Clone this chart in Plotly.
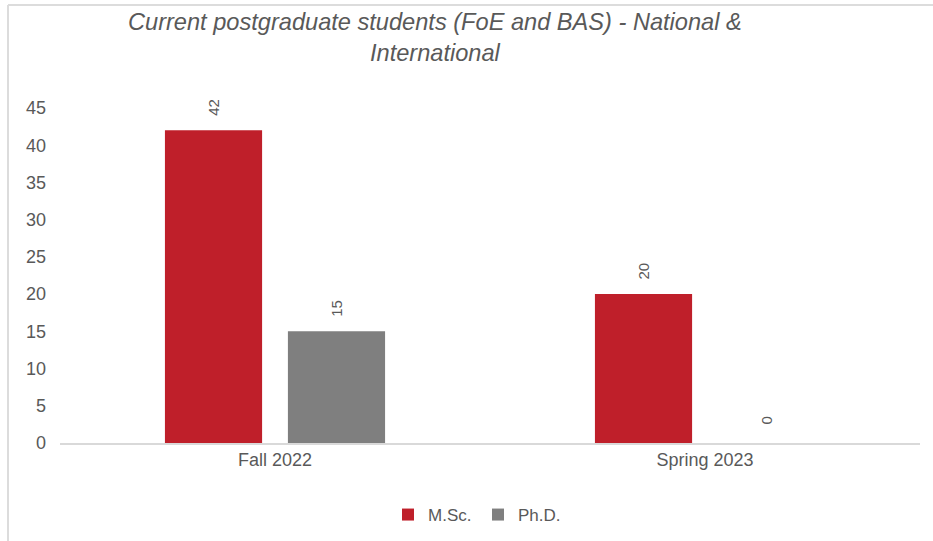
import plotly.graph_objects as go

categories = ["Fall 2022", "Spring 2023"]
msc_values = [42, 20]
phd_values = [15, 0]
series_names = ["M.Sc.", "Ph.D."]
y_ticks = [0, 5, 10, 15, 20, 25, 30, 35, 40, 45]

RED = "#BF1F2A"
GRAY = "#7F7F7F"
TXT = "#595959"
FONT = "Liberation Sans, Arial, sans-serif"

ML, MR, MT, MB = 60, 13, 108, 98
W, H = 933, 541
PW, PH = W - ML - MR, H - MT - MB

fig = go.Figure()
series = [(series_names[0], msc_values, RED), (series_names[1], phd_values, GRAY)]
for name, vals, col in series:
    fig.add_trace(go.Bar(
        x=categories, y=vals, name=name,
        marker=dict(color=col, line=dict(width=0)),
        cliponaxis=False,
    ))

# rotated data labels placed above each bar
cat_w = PW / len(categories)
slot = cat_w * (1 - 0.428) / 2
for si, (name, vals, col) in enumerate(series):
    for cat, v in zip(categories, vals):
        fig.add_annotation(
            x=cat, y=v, xref="x", yref="y", text=str(v), showarrow=False,
            textangle=-90, xanchor="center", yanchor="middle",
            xshift=(si - 0.5) * slot, yshift=23,
            font=dict(family=FONT, size=15, color=TXT),
        )

fig.add_annotation(
    text="<i>Current postgraduate students (FoE and BAS) - National &<br>International</i>",
    xref="paper", yref="paper", x=(435 - ML) / PW, y=(H - MB - 37.5) / PH,
    xanchor="center", yanchor="middle", showarrow=False,
    font=dict(family=FONT, size=23.6, color=TXT),
)

fig.update_layout(
    width=W, height=H,
    margin=dict(l=ML, r=MR, t=MT, b=MB, autoexpand=False),
    paper_bgcolor="white", plot_bgcolor="white",
    barmode="group", bargap=0.428, bargroupgap=0.21,
    font=dict(family=FONT, color=TXT, size=18),
    showlegend=True,
    legend=dict(orientation="h", x=(478 - ML) / PW, xanchor="center",
                y=(H - MB - 515) / PH, yanchor="middle",
                font=dict(size=17, color=TXT), itemwidth=30, traceorder="normal",
                entrywidth=45, entrywidthmode="pixels"),
)
fig.update_xaxes(showgrid=False, showline=True, linecolor="#D9D9D9", linewidth=1.5,
                 ticks="", tickfont=dict(size=18, color=TXT))
fig.update_yaxes(range=[0, 45], tickvals=y_ticks, showgrid=False, zeroline=False,
                 showline=False, ticks="", tickfont=dict(size=18, color=TXT), ticklabelstandoff=13)

# chart frame border (left and top edges)
fx = (8 - ML) / PW
fy = (H - MB - 5) / PH
fig.add_shape(type="line", xref="paper", yref="paper",
              x0=fx, x1=fx, y0=-MB / PH, y1=fy,
              line=dict(color="#DCDCDC", width=2))
fig.add_shape(type="line", xref="paper", yref="paper",
              x0=fx, x1=1 + MR / PW, y0=fy, y1=fy,
              line=dict(color="#DCDCDC", width=2))

fig.write_html("out.html", config={"displayModeBar": False},
               post_script="document.body.style.margin='0';document.body.style.padding='0';")
